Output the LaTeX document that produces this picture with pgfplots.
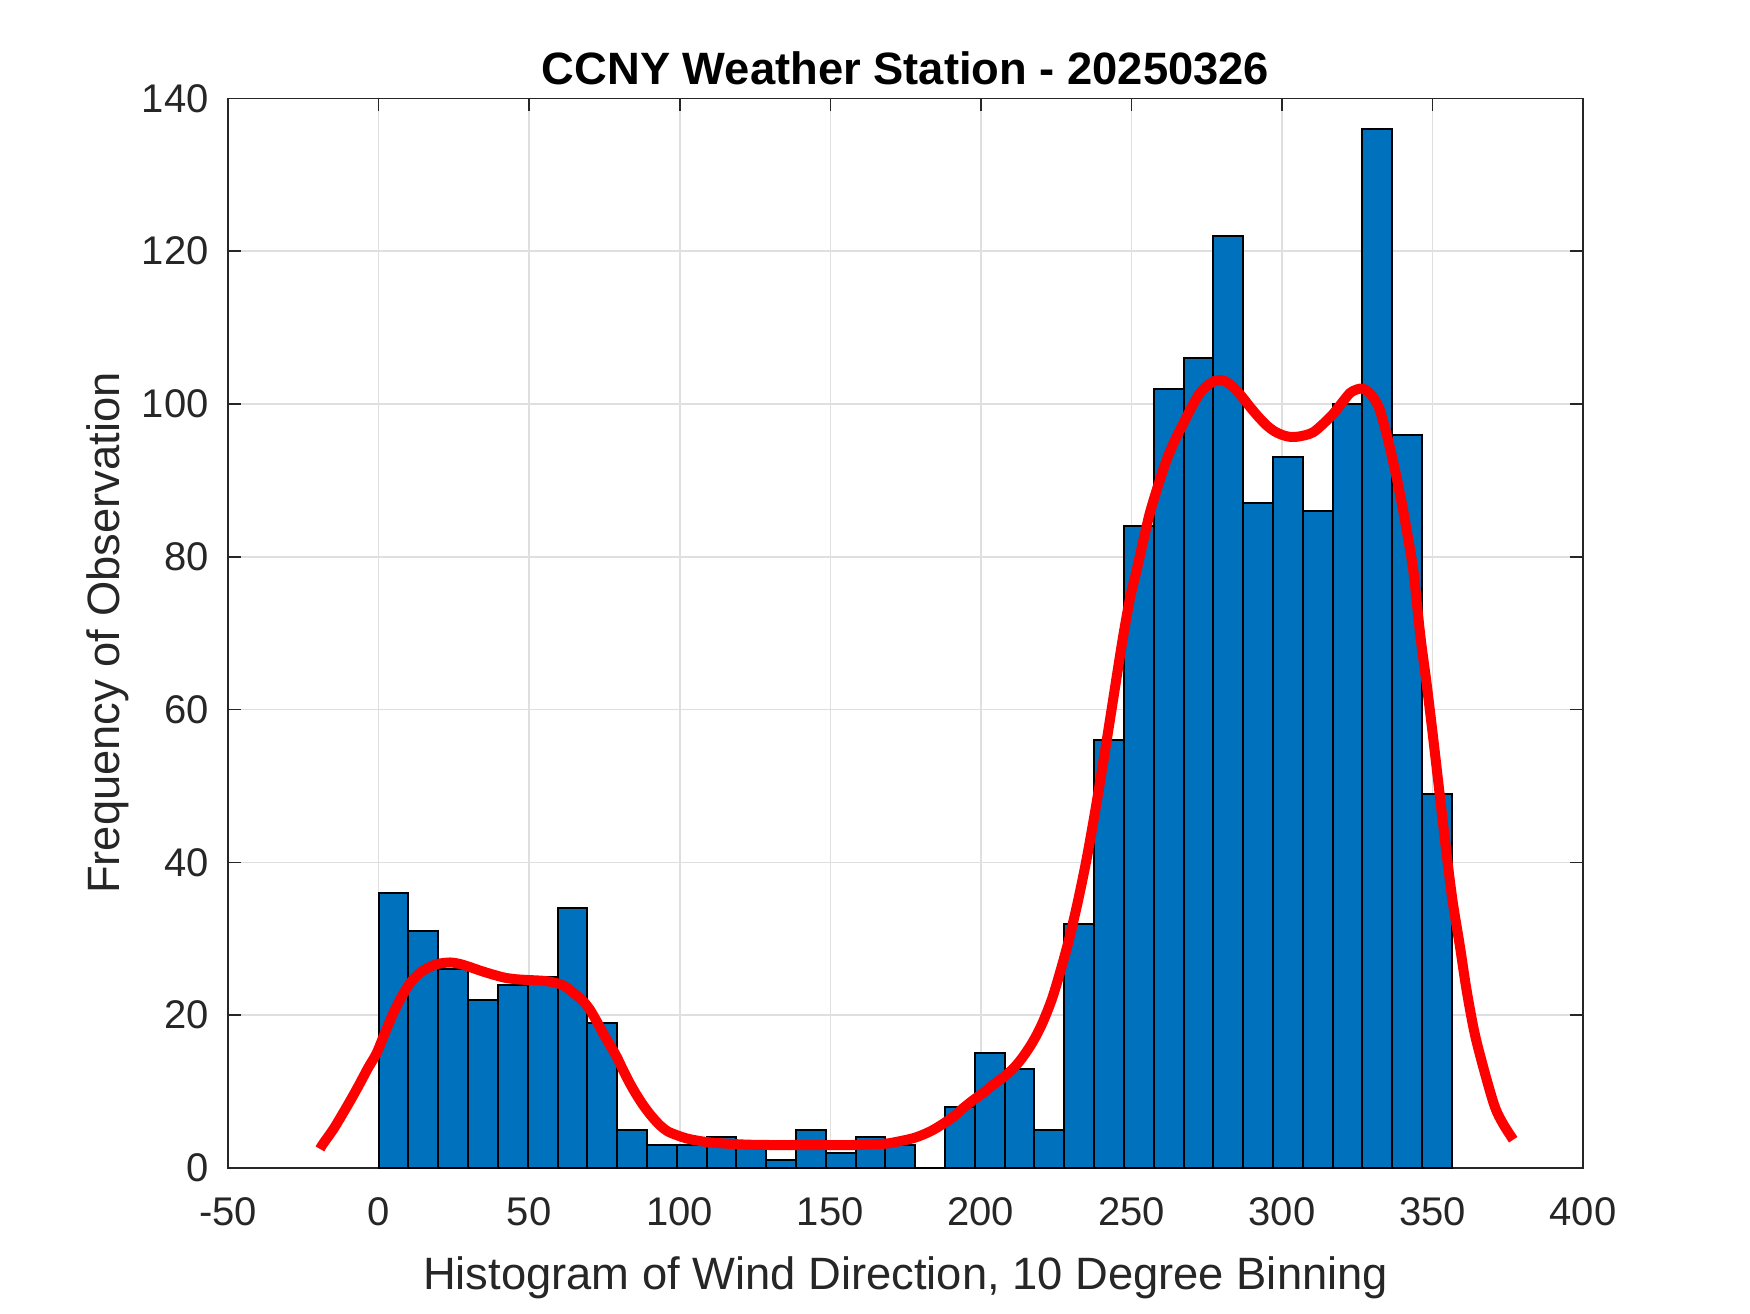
\documentclass[border=0pt]{standalone}
\usepackage{pgfplots}
\pgfplotsset{compat=1.18}
\usepackage{fontspec}
\setmainfont{Liberation Sans}
\definecolor{mblue}{RGB}{0,114,189}
\definecolor{axgray}{RGB}{38,38,38}
\definecolor{gridgray}{RGB}{223,223,223}
\pgfplotsset{
  layers/gridbelow/.define layer set={axis background,axis grid,main,axis ticks,axis lines,axis tick labels,axis descriptions,axis foreground}{},
}
\begin{document}
\begin{tikzpicture}
\begin{axis}[
  set layers=gridbelow,
  scale only axis,
  width=406.5pt, height=320.9pt,
  at={(0pt,0pt)}, anchor=south west,
  xmin=-50, xmax=400, ymin=0, ymax=140,
  xtick={-50,0,...,400}, ytick={0,20,...,140},
  grid=major,
  major grid style={line width=0.45pt, color=gridgray},
  axis line style={line width=0.45pt, color=axgray},
  tick style={line width=0.45pt, color=axgray},
  tick align=inside, major tick length=3.9pt,
  xtick pos=both, ytick pos=both,
  /pgf/number format/assume math mode=true,
  /pgf/number format/.cd, 1000 sep={}, /pgfplots/.cd,
  tick label style={font=\fontsize{12}{14}\selectfont, text=axgray},
  yticklabel style={xshift=-2.3pt},
  xticklabel style={yshift=-5.3pt},
  xlabel={Histogram of Wind Direction, 10 Degree Binning},
  ylabel={Frequency of Observation},
  title={\bfseries CCNY Weather Station - 20250326},
  every axis title shift=0pt,
  label style={font=\fontsize{13.6}{16}\selectfont, text=axgray},
  xlabel style={at={(axis description cs:0.5,0)}, anchor=base, yshift=-36.5pt},
  ylabel style={at={(axis description cs:0,0.5)}, anchor=base, yshift=32.7pt},
  title style={font=\fontsize{13.6}{16}\selectfont, text=black, at={(axis description cs:0.5,1)}, anchor=base, yshift=4.3pt},
]
\addplot[ybar interval, fill=mblue, draw=black, line width=0.6pt] coordinates {
(0,36) (9.9,31) (19.8,26) (29.7,22) (39.6,24) (49.5,25) (59.4,34) (69.3,19)
(79.2,5) (89.1,3) (99,3) (108.9,4) (118.8,3) (128.7,1) (138.6,5) (148.5,2)
(158.4,4) (168.3,3) (178.2,0) (188.1,8) (198,15) (207.9,13) (217.8,5) (227.7,32)
(237.6,56) (247.5,84) (257.4,102) (267.3,106) (277.2,122) (287.1,87) (297,93)
(306.9,86) (316.8,100) (326.7,136) (336.6,96) (346.5,49) (356.4,0)
};
\addplot[red, line width=3pt, smooth, tension=0.5, no markers] coordinates {
(-19.5,2.5) (-18.4,3.2) (-15,5.1) (-11.8,7.2) (-9,9.1) (-6.2,11.1) (-3.5,13.1)
(-0.7,15.0) (2,17.6) (4.8,20.2) (7.6,22.4) (10.4,24.2) (13,25.3) (15.9,26.1)
(19.5,26.7) (23.7,26.9) (27,26.7) (30.3,26.3) (34,25.8) (38.1,25.3) (42,24.9)
(45.8,24.7) (50,24.6) (54.7,24.5) (58,24.3) (61.3,23.9) (63.5,23.3) (65.7,22.6)
(68,21.8) (70.2,20.7) (72.4,19.2) (74.6,17.6) (76.8,16.1) (79,14.6) (81.2,12.8)
(83.4,11.1) (85.6,9.6) (87.9,8.2) (90.6,6.8) (93.4,5.6) (96,4.8) (99,4.3)
(103,3.8) (108.9,3.4) (115,3.2) (123,3.05) (133.3,3.0) (145,3.0) (155.4,3.0)
(162,3.05) (168.7,3.2) (173,3.5) (177.5,3.9) (181,4.4) (184.2,5.0) (187.5,5.8)
(190.8,6.7) (194,7.8) (197.5,8.9) (201,9.9) (204.1,10.9) (207.5,11.9) (210.7,13.0)
(213.5,14.3) (216.3,15.9) (218.5,17.4) (220.7,19.2) (223.5,22.0) (226,25.2)
(229,29.5) (232,34.5) (235,40.2) (238,46.8) (241,54) (244,61.5) (247,69)
(249.5,74.5) (251.7,78.2) (254,82.2) (256.1,85.7) (259,89.5) (261.7,92.7)
(264.5,95.3) (267.2,97.4) (270,99.6) (272.7,101.4) (275.5,102.5) (278.3,103.1)
(281,103) (283.8,102.2) (286.6,101) (289.4,99.6) (292.2,98.3) (294.9,97.2)
(297.6,96.4) (300.4,95.9) (302.6,95.7) (304.8,95.7) (307.6,95.9) (310.4,96.3)
(313.7,97.4) (317,98.7) (319.8,100.1) (322.5,101.4) (324.2,101.8) (325.9,102.0)
(327.5,101.9) (329.2,101.4) (330.9,100.5) (332.5,99.2) (334.7,96.1) (336.3,93.5)
(338,90.5) (339.7,87.2) (341.4,83.5) (343.6,78.2) (346,69.5) (348,63.5)
(350,57) (352.2,49.5) (354.4,42) (356.6,35.1) (359.1,29) (361.3,23.3)
(364,17.6) (367.4,12.4) (370.7,8.0) (373.4,5.8) (376.8,3.7)
};
\end{axis}
\pgfresetboundingbox
\path[use as bounding box] (-68.43pt,-43.5pt) rectangle (456.57pt,350.4pt);
\end{tikzpicture}
\end{document}
